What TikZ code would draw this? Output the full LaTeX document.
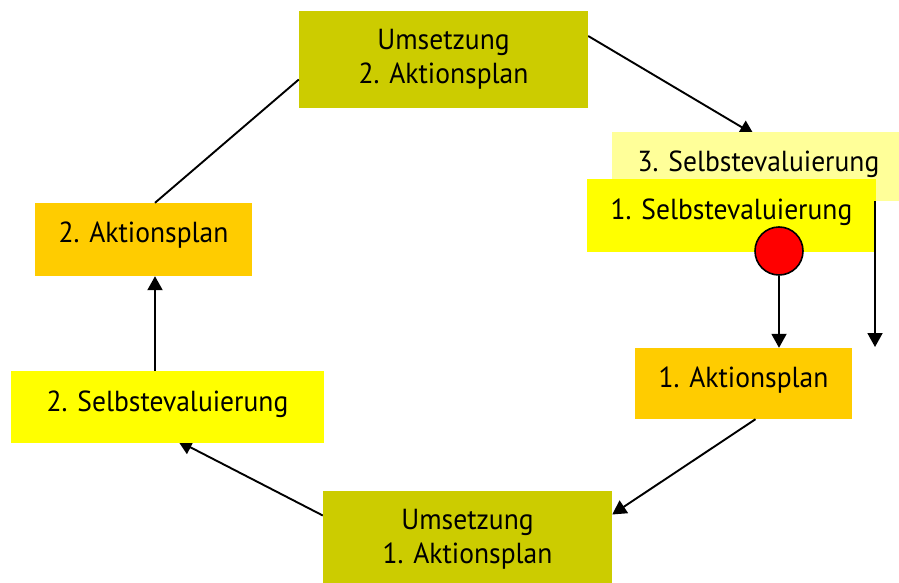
\documentclass[tikz,border=0pt]{standalone}
\usepackage{fontspec}
\setmainfont{PT Sans}[FakeStretch=0.95]
\usetikzlibrary{arrows.meta,calc}
\pgfdeclarelayer{bg}
\pgfsetlayers{bg,main}
\definecolor{umsetzc}{HTML}{CCCC00}
\definecolor{aktionc}{HTML}{FFCC00}
\definecolor{selbstc}{HTML}{FFFF00}
\definecolor{paleselbstc}{HTML}{FFFF99}
\definecolor{dotc}{HTML}{FF0000}
\begin{document}
\begin{tikzpicture}[x=1pt,y=-1pt,
  box/.style={inner sep=0pt, font=\fontsize{29}{34}\selectfont, align=center},
  conn/.style={line width=1.9pt},
  arr/.style={conn,-{Triangle[length=14pt,width=15pt]}}]
\useasboundingbox (0,0) rectangle (899,583);
\coordinate (e3) at (875,347);
% boxes
\node[box, fill=umsetzc, minimum width=289pt, minimum height=97pt] (u2) at (443.5,59.5) {\raisebox{6pt}{\begin{tabular}{@{}c@{}}Umsetzung\\2. Aktionsplan\end{tabular}}};
\node[box, fill=paleselbstc, minimum width=287pt, minimum height=69pt] (se3) at (755.5,166.5) {\hspace*{6pt}\raisebox{11pt}{3. Selbstevaluierung}};
\node[box, fill=selbstc, minimum width=289pt, minimum height=73pt] (se1) at (731.5,215.5) {\raisebox{13pt}{1. Selbstevaluierung}};
\node[circle, draw=black, line width=1.6pt, fill=dotc, minimum size=48pt, inner sep=0pt] (dot) at (779,251) {};
\node[box, fill=aktionc, minimum width=217pt, minimum height=71pt] (ap1) at (743.5,383.5) {\raisebox{12pt}{1. Aktionsplan}};
\node[box, fill=umsetzc, minimum width=289pt, minimum height=97pt] (u1) at (467.5,539.5) {\raisebox{5pt}{\begin{tabular}{@{}c@{}}Umsetzung\\1. Aktionsplan\end{tabular}}};
\node[box, fill=selbstc, minimum width=313pt, minimum height=72pt] (se2) at (167.5,407) {\raisebox{12pt}{2. Selbstevaluierung}};
\node[box, fill=aktionc, minimum width=217pt, minimum height=73pt] (ap2) at (143.5,239.5) {\raisebox{15pt}{2. Aktionsplan}};
% connectors drawn behind the boxes they point into
\begin{pgfonlayer}{bg}
\draw[arr, shorten >=-5pt] ([yshift=23.5pt]u2.east) -- ([xshift=-6pt]se3.north);
\draw[arr, shorten >=-5pt] ([yshift=24pt]u1.west) -- ([xshift=15pt]se2.south);
\end{pgfonlayer}
\draw[arr] (se3.south -| e3) -- (e3);
\draw[arr] (dot.south) -- (dot.south |- ap1.north);
\draw[arr] ([xshift=12pt]ap1.south) -- ([yshift=25pt]u1.east);
\draw[arr] ([xshift=-12.5pt]se2.north) -- ([xshift=11.5pt]ap2.south);
\draw[conn] ([xshift=11.5pt]ap2.north) -- ([yshift=-20pt]u2.west);
\end{tikzpicture}
\end{document}
